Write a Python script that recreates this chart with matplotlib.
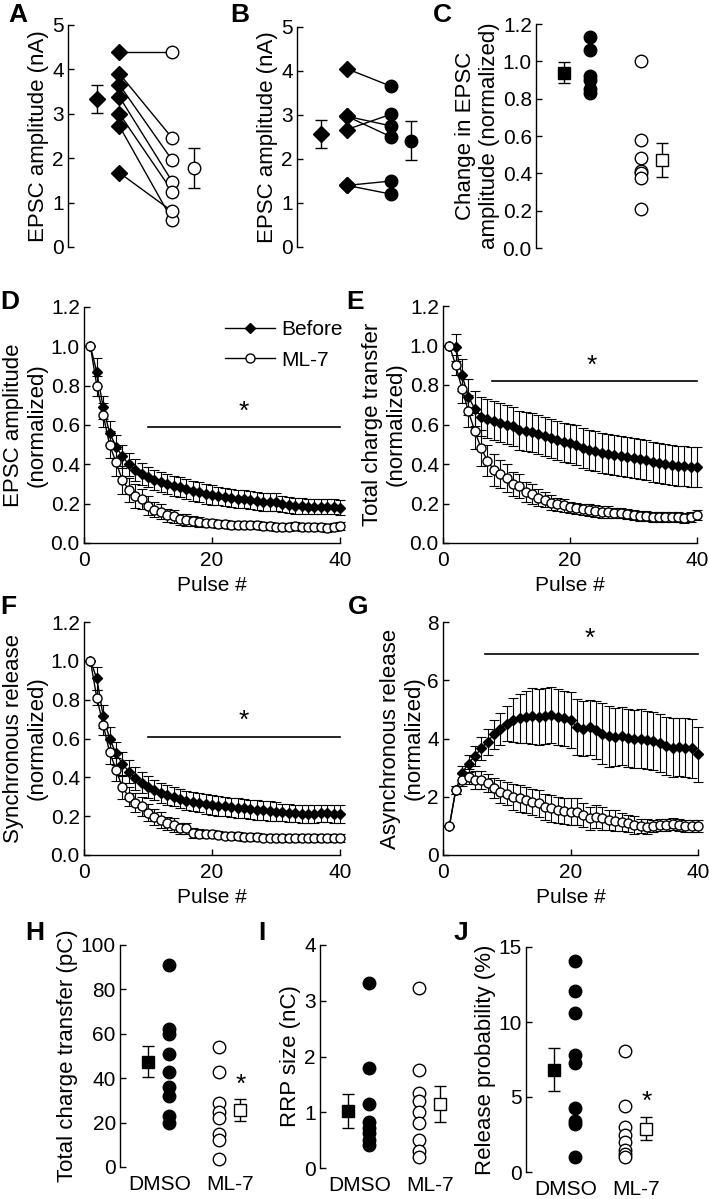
import matplotlib
matplotlib.use("Agg")
import matplotlib.pyplot as plt
import numpy as np

plt.rcParams['font.family'] = ['Liberation Sans', 'DejaVu Sans']
plt.rcParams['font.size'] = 15
plt.rcParams['axes.labelsize'] = 16

# ---------------- datos ----------------
# A: antes vs ML-7 (nA)
a_before = [4.4, 3.9, 3.65, 3.38, 3.0, 2.72, 1.67]
a_ml7 = [4.4, 2.45, 1.95, 1.47, 1.25, 0.6, 0.8]
a_means = [3.33, 1.78]
a_sems = [0.31, 0.44]

# B: antes vs DMSO (nA)
b_before = [4.05, 2.97, 2.97, 2.67, 1.4, 1.4]
b_dmso = [3.65, 2.5, 2.75, 3.02, 1.5, 1.2]
b_means = [2.57, 2.42]
b_sems = [0.31, 0.45]

# C: cambio normalizado
c_dmso = [1.13, 1.06, 0.92, 0.90, 0.85, 0.83]
c_ml7 = [1.0, 0.58, 0.48, 0.41, 0.40, 0.375, 0.21]
c_means = [0.94, 0.47]
c_sems = [0.055, 0.09]

pulses = np.arange(1, 41)

# D: amplitud EPSC normalizada
d_before = [1.0, 0.87, 0.69, 0.56, 0.49, 0.44, 0.40, 0.37, 0.35, 0.335,
            0.32, 0.31, 0.30, 0.29, 0.285, 0.275, 0.265, 0.26, 0.25, 0.245,
            0.24, 0.235, 0.23, 0.225, 0.225, 0.22, 0.215, 0.21, 0.21, 0.21,
            0.20, 0.195, 0.19, 0.19, 0.185, 0.185, 0.185, 0.185, 0.185, 0.18]
d_before_err = [0, 0.07, 0.06, 0.06, 0.06, 0.06, 0.06, 0.055, 0.055, 0.05,
                0.05, 0.05, 0.05, 0.05, 0.05, 0.05, 0.05, 0.05, 0.05, 0.05,
                0.045, 0.045, 0.045, 0.045, 0.045, 0.045, 0.045, 0.045, 0.045, 0.045,
                0.04, 0.04, 0.04, 0.04, 0.04, 0.04, 0.04, 0.04, 0.04, 0.04]
d_ml7 = [1.0, 0.80, 0.65, 0.50, 0.41, 0.32, 0.27, 0.24, 0.225, 0.19,
         0.17, 0.16, 0.14, 0.135, 0.12, 0.115, 0.11, 0.105, 0.10, 0.10,
         0.095, 0.095, 0.09, 0.09, 0.09, 0.09, 0.09, 0.085, 0.085, 0.08,
         0.08, 0.08, 0.085, 0.08, 0.08, 0.08, 0.08, 0.075, 0.08, 0.085]
d_ml7_err = [0, 0.05, 0.06, 0.07, 0.07, 0.07, 0.06, 0.06, 0.05, 0.05,
             0.04, 0.04, 0.035, 0.035, 0.03, 0.03, 0.025, 0.025, 0.02, 0.02,
             0.02, 0.02, 0.02, 0.02, 0.02, 0.02, 0.02, 0.02, 0.02, 0.02,
             0.02, 0.02, 0.02, 0.02, 0.02, 0.02, 0.02, 0.02, 0.02, 0.02]

# E: transferencia de carga total normalizada
e_before = [1.0, 0.99, 0.85, 0.74, 0.68, 0.64, 0.63, 0.62, 0.61, 0.60,
            0.59, 0.57, 0.565, 0.56, 0.55, 0.54, 0.53, 0.52, 0.51, 0.505,
            0.495, 0.48, 0.47, 0.465, 0.455, 0.45, 0.445, 0.44, 0.435, 0.43,
            0.425, 0.42, 0.41, 0.405, 0.40, 0.395, 0.39, 0.39, 0.385, 0.385]
e_before_err = [0, 0.07, 0.08, 0.09, 0.09, 0.1, 0.1, 0.1, 0.1, 0.1,
                0.1, 0.1, 0.1, 0.1, 0.1, 0.1, 0.1, 0.1, 0.1, 0.1,
                0.1, 0.1, 0.1, 0.1, 0.1, 0.1, 0.1, 0.1, 0.1, 0.1,
                0.1, 0.1, 0.1, 0.1, 0.1, 0.1, 0.1, 0.1, 0.1, 0.1]
e_ml7 = [1.0, 0.90, 0.78, 0.667, 0.567, 0.48, 0.417, 0.37, 0.35, 0.33,
         0.30, 0.29, 0.26, 0.25, 0.23, 0.22, 0.205, 0.195, 0.19, 0.18,
         0.175, 0.17, 0.165, 0.16, 0.155, 0.155, 0.15, 0.15, 0.145, 0.14,
         0.135, 0.135, 0.13, 0.13, 0.13, 0.13, 0.13, 0.125, 0.13, 0.14]
e_ml7_err = [0, 0.05, 0.07, 0.08, 0.09, 0.09, 0.08, 0.08, 0.07, 0.07,
             0.06, 0.06, 0.05, 0.05, 0.045, 0.04, 0.04, 0.035, 0.035, 0.03,
             0.03, 0.03, 0.03, 0.03, 0.03, 0.03, 0.025, 0.025, 0.025, 0.025,
             0.025, 0.025, 0.025, 0.025, 0.025, 0.025, 0.025, 0.025, 0.025, 0.025]

# F: liberacion sincronica normalizada
f_before = [1.0, 0.91, 0.715, 0.60, 0.523, 0.47, 0.43, 0.395, 0.372, 0.35,
            0.335, 0.32, 0.31, 0.30, 0.29, 0.28, 0.275, 0.27, 0.262, 0.257,
            0.253, 0.25, 0.245, 0.243, 0.24, 0.235, 0.232, 0.23, 0.227, 0.223,
            0.22, 0.217, 0.214, 0.212, 0.21, 0.212, 0.214, 0.214, 0.212, 0.21]
f_before_err = [0, 0.06, 0.06, 0.06, 0.06, 0.06, 0.06, 0.06, 0.055, 0.055,
                0.05, 0.05, 0.05, 0.05, 0.05, 0.05, 0.05, 0.05, 0.05, 0.05,
                0.05, 0.05, 0.05, 0.05, 0.05, 0.05, 0.05, 0.05, 0.05, 0.05,
                0.045, 0.045, 0.045, 0.045, 0.045, 0.045, 0.045, 0.045, 0.045, 0.045]
f_ml7 = [1.0, 0.81, 0.67, 0.53, 0.44, 0.348, 0.30, 0.27, 0.25, 0.218,
         0.197, 0.18, 0.163, 0.154, 0.137, 0.137, 0.115, 0.11, 0.11, 0.11,
         0.105, 0.10, 0.10, 0.097, 0.094, 0.093, 0.092, 0.09, 0.09, 0.089,
         0.088, 0.088, 0.087, 0.087, 0.086, 0.086, 0.086, 0.086, 0.086, 0.086]
f_ml7_err = [0, 0.04, 0.05, 0.06, 0.06, 0.06, 0.05, 0.05, 0.05, 0.045,
             0.04, 0.04, 0.035, 0.035, 0.03, 0.03, 0.025, 0.025, 0.02, 0.02,
             0.02, 0.02, 0.02, 0.02, 0.02, 0.02, 0.02, 0.02, 0.02, 0.02,
             0.02, 0.02, 0.02, 0.02, 0.02, 0.02, 0.02, 0.02, 0.02, 0.02]

# G: liberacion asincronica normalizada
g_before = [1.0, 2.23, 2.82, 3.14, 3.4, 3.66, 3.89, 4.15, 4.34, 4.51,
            4.63, 4.69, 4.74, 4.77, 4.74, 4.77, 4.8, 4.74, 4.69, 4.63,
            4.4, 4.34, 4.38, 4.29, 4.17, 4.08, 4.06, 4.08, 4.02, 3.97,
            4.0, 3.94, 3.91, 3.85, 3.74, 3.69, 3.71, 3.69, 3.66, 3.46]
g_before_err = [0, 0.15, 0.25, 0.3, 0.35, 0.4, 0.45, 0.5, 0.55, 0.6,
                0.75, 0.85, 0.9, 0.95, 0.95, 0.97, 0.97, 0.97, 0.95, 0.95,
                0.95, 0.95, 0.95, 1.0, 1.05, 1.05, 1.0, 1.0, 1.0, 1.0,
                1.0, 1.0, 1.0, 1.0, 1.0, 1.0, 1.0, 1.0, 1.0, 0.95]
g_ml7 = [1.0, 2.23, 2.57, 2.69, 2.57, 2.57, 2.48, 2.29, 2.17, 2.11,
         2.0, 1.94, 1.89, 1.83, 1.77, 1.66, 1.6, 1.54, 1.52, 1.49,
         1.49, 1.37, 1.26, 1.31, 1.26, 1.2, 1.18, 1.14, 1.09, 1.03,
         0.99, 0.97, 0.99, 1.03, 1.03, 1.06, 1.03, 0.99, 0.99, 0.99]
g_ml7_err = [0, 0.15, 0.2, 0.25, 0.3, 0.3, 0.3, 0.35, 0.4, 0.4,
             0.45, 0.45, 0.45, 0.45, 0.45, 0.45, 0.45, 0.45, 0.45, 0.45,
             0.45, 0.4, 0.4, 0.4, 0.4, 0.35, 0.35, 0.3, 0.3, 0.3,
             0.25, 0.25, 0.2, 0.2, 0.2, 0.2, 0.2, 0.2, 0.2, 0.2]

# H: carga total (pC)
h_dmso = [91, 62, 60, 51, 43, 36, 32, 23, 20]
h_ml7 = [54, 43, 29, 25, 22, 15, 12, 3.5]
h_means = [47.4, 25.5]
h_sems = [7.0, 5.0]

# I: tamano RRP (nC)
i_dmso = [3.31, 1.8, 1.15, 0.82, 0.72, 0.62, 0.5, 0.42]
i_ml7 = [3.22, 1.75, 1.35, 1.2, 1.0, 0.8, 0.5, 0.3, 0.2]
i_means = [1.02, 1.15]
i_sems = [0.31, 0.32]

# J: probabilidad de liberacion (%)
j_dmso = [14.1, 12.1, 10.6, 7.8, 7.3, 4.3, 3.4, 3.2, 1.0]
j_ml7 = [8.1, 4.4, 3.0, 2.5, 2.0, 1.5, 1.2, 1.0]
j_means = [6.82, 2.9]
j_sems = [1.45, 0.75]

# ---------------- figura ----------------
W, H = 709, 1199
fig = plt.figure(figsize=(W / 100, H / 100), dpi=100)


def px_axes(l, t, r, b):
    return fig.add_axes([l / W, 1 - b / H, (r - l) / W, (b - t) / H])


def estilo(ax, bottom=False):
    ax.spines['top'].set_visible(False)
    ax.spines['right'].set_visible(False)
    ax.spines['bottom'].set_visible(bottom)
    ax.tick_params(direction='in', length=4, width=1, labelsize=15, pad=3)
    for s in ax.spines.values():
        s.set_linewidth(1)


def letra(x, y, t):
    fig.text(x / W, 1 - y / H, t, fontsize=19, fontweight='bold', va='center', ha='left')


POS = [0.2, 0.35, 0.71, 0.86]
LAB = [0.28, 0.785]


def cat_axes(ax, ymax, yticks, ylabel, names):
    estilo(ax)
    ax.set_xlim(0, 1)
    ax.set_ylim(0, ymax)
    ax.set_yticks(yticks)
    ax.set_xticks(LAB)
    ax.set_xticklabels(names)
    ax.tick_params(axis='x', length=0, pad=6)
    ax.set_ylabel(ylabel, labelpad=2)


ek = dict(color='k', capsize=4, elinewidth=1, capthick=1, clip_on=False, zorder=3)

# A
ax = px_axes(68, 25, 215, 247)
for y0, y1 in zip(a_before, a_ml7):
    ax.plot([POS[1], POS[2]], [y0, y1], '-', color='k', lw=1, zorder=1)
ax.plot([POS[1]] * len(a_before), a_before, 'D', color='k', ms=8, zorder=2, clip_on=False)
ax.plot([POS[2]] * len(a_ml7), a_ml7, 'o', mfc='white', mec='k', ms=9, zorder=2, clip_on=False)
ax.errorbar(POS[0], a_means[0], yerr=a_sems[0], fmt='D', ms=8, mfc='k', **ek)
ax.errorbar(POS[3], a_means[1], yerr=a_sems[1], fmt='o', ms=9, mfc='white', mec='k', **ek)
cat_axes(ax, 5, [0, 1, 2, 3, 4, 5], 'EPSC amplitude (nA)', ['Before', 'ML-7'])
ax.set_xticks([0.27, 0.78])

# B
ax = px_axes(297, 27, 440, 247)
for y0, y1 in zip(b_before, b_dmso):
    ax.plot([POS[1], POS[2] - 0.05], [y0, y1], '-', color='k', lw=1, zorder=1)
ax.plot([POS[1]] * len(b_before), b_before, 'D', color='k', ms=8, zorder=2, clip_on=False)
ax.plot([POS[2] - 0.05] * len(b_dmso), b_dmso, 'o', color='k', ms=9, zorder=2, clip_on=False)
ax.errorbar(POS[0] - 0.03, b_means[0], yerr=b_sems[0], fmt='D', ms=8, mfc='k', **ek)
ax.errorbar(POS[3] - 0.06, b_means[1], yerr=b_sems[1], fmt='o', ms=9, mfc='k', **ek)
cat_axes(ax, 5, [0, 1, 2, 3, 4, 5], 'EPSC amplitude (nA)', ['Before', 'DMSO'])
ax.set_xticks([0.22, 0.70])

# C
ax = px_axes(536, 24, 690, 248)
ax.plot([POS[1]] * len(c_dmso), c_dmso, 'o', color='k', ms=9, clip_on=False)
ax.plot([POS[2] - 0.03] * len(c_ml7), c_ml7, 'o', mfc='white', mec='k', ms=9, clip_on=False)
ax.errorbar(POS[0] - 0.02, c_means[0], yerr=c_sems[0], fmt='s', ms=9, mfc='k', **ek)
ax.errorbar(POS[3] - 0.04, c_means[1], yerr=c_sems[1], fmt='s', ms=9, mfc='white', mec='k', **ek)
cat_axes(ax, 1.2, np.arange(0, 1.21, 0.2), 'Change in EPSC\namplitude (normalized)', ['DMSO', 'ML-7'])
ax.set_yticklabels(['%.1f' % v for v in np.arange(0, 1.21, 0.2)])
ax.set_xticks([0.24, 0.75])
ax.yaxis.label.set_linespacing(1.15)


# D-G
def curvas(ax, before, before_err, ml7, ml7_err, ymax, yticks, fmt_y, ylabel,
           sig_x0, sig_y, star_x):
    estilo(ax, bottom=True)
    eb1 = ax.errorbar(pulses, before, yerr=before_err, fmt='-D', color='k', ms=5,
                      lw=1, capsize=3.5, elinewidth=0.8, capthick=0.8, clip_on=False, zorder=2)
    eb2 = ax.errorbar(pulses, ml7, yerr=ml7_err, fmt='-o', color='k', mfc='white', mec='k',
                      ms=6.5, lw=1, capsize=3.5, elinewidth=0.8, capthick=0.8, clip_on=False, zorder=3)
    ax.set_xlim(0, 40)
    ax.set_ylim(0, ymax)
    ax.set_xticks([0, 20, 40])
    ax.set_yticks(yticks)
    ax.set_yticklabels([fmt_y % v for v in yticks])
    ax.tick_params(axis='x', pad=6)
    ax.set_xlabel('Pulse #', labelpad=4, fontsize=15)
    ax.set_ylabel(ylabel, labelpad=2, linespacing=1.15)
    ax.plot([sig_x0, 40], [sig_y, sig_y], '-', color='k', lw=1.2, clip_on=False)
    ax.text(star_x, sig_y + ymax * 0.015, '*', ha='center', va='bottom', fontsize=19)
    return eb1, eb2


yt1 = np.arange(0, 1.21, 0.2)
ax = px_axes(84, 307, 340, 543)
eb1, eb2 = curvas(ax, d_before, d_before_err, d_ml7, d_ml7_err, 1.2, yt1, '%.1f',
                  'EPSC amplitude\n(normalized)', 10, 0.59, 25)
ax.legend([eb1[0], eb2[0]], ['Before', 'ML-7'], loc='upper left', bbox_to_anchor=(0.52, 0.98),
          frameon=False, handlelength=2.4, labelspacing=0.55, handletextpad=0.3, fontsize=15,
          borderaxespad=0)

ax = px_axes(443, 306, 697, 543)
curvas(ax, e_before, e_before_err, e_ml7, e_ml7_err, 1.2, yt1, '%.1f',
       'Total charge transfer\n(normalized)', 7.7, 0.82, 23.5)

ax = px_axes(84, 622, 340, 855)
curvas(ax, f_before, f_before_err, f_ml7, f_ml7_err, 1.2, yt1, '%.1f',
       'Synchronous release\n(normalized)', 10, 0.61, 25)

ax = px_axes(443, 622, 698, 855)
curvas(ax, g_before, g_before_err, g_ml7, g_ml7_err, 8, [0, 2, 4, 6, 8], '%d',
       'Asynchronous release\n(normalized)', 6.6, 6.89, 23)


# H-J
def puntos(ax, dmso, ml7, means, sems, ymax, yticks, ylabel, star=None):
    ax.plot([POS[1]] * len(dmso), dmso, 'o', color='k', ms=9, clip_on=False)
    ax.plot([POS[2]] * len(ml7), ml7, 'o', mfc='white', mec='k', ms=9, clip_on=False)
    ax.errorbar(POS[0], means[0], yerr=sems[0], fmt='s', ms=9, mfc='k', **ek)
    ax.errorbar(POS[3], means[1], yerr=sems[1], fmt='s', ms=9, mfc='white', mec='k', **ek)
    cat_axes(ax, ymax, yticks, ylabel, ['DMSO', 'ML-7'])
    if star is not None:
        ax.text(POS[3], star, '*', ha='center', va='center', fontsize=19)


ax = px_axes(120, 945, 260, 1167)
puntos(ax, h_dmso, h_ml7, h_means, h_sems, 100, [0, 20, 40, 60, 80, 100],
       'Total charge transfer (pC)', star=37)
ax = px_axes(320, 945, 460, 1168)
puntos(ax, i_dmso, i_ml7, i_means, i_sems, 4, [0, 1, 2, 3, 4], 'RRP size (nC)')
ax = px_axes(526, 947, 666, 1172)
puntos(ax, j_dmso, j_ml7, j_means, j_sems, 15, [0, 5, 10, 15], 'Release probability (%)', star=4.7)

letra(8, 15, 'A')
letra(230, 15, 'B')
letra(433, 15, 'C')
letra(0, 302, 'D')
letra(346, 302, 'E')
letra(0, 607, 'F')
letra(348, 607, 'G')
letra(25, 933, 'H')
letra(258, 933, 'I')
letra(454, 933, 'J')

plt.savefig('out.png', dpi=100)
